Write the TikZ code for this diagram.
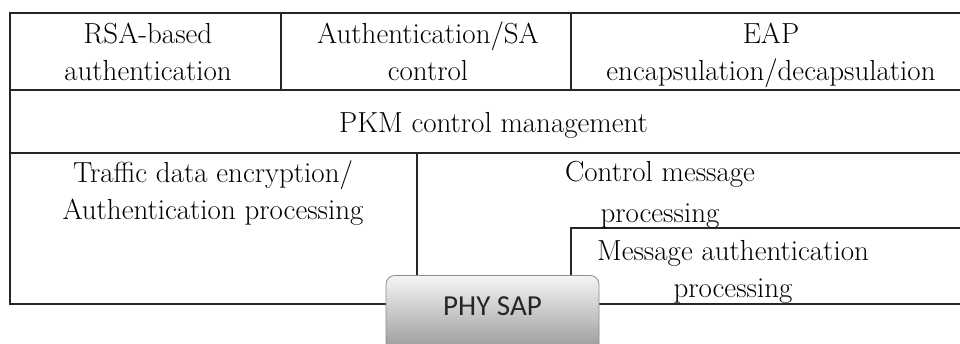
\documentclass[tikz,border=0pt]{standalone}
\usepackage{fontspec}
\newfontfamily\sapfont{Carlito}
\begin{document}
\begin{tikzpicture}[x=1pt,y=-1pt,
  frame/.style={draw=black!85, line width=1.4pt},
  lbl/.style={anchor=north, inner sep=0pt, align=center, text=black,
    font=\fontsize{29}{37}\selectfont},
  sapbox/.style={draw=black!45, line width=0.8pt, rounded corners=9pt,
    top color=white!96!black, bottom color=black!42,
    minimum width=213pt, minimum height=80pt, anchor=north,
    text height=10pt, text depth=10pt, text=black!85,
    font=\sapfont\fontsize{29}{34}\selectfont}]
\clip (0,0) rectangle (960,343);
\fill[white] (0,0) rectangle (960,343);
% frame
\draw[frame] (10,13) rectangle (966,304);
\draw[frame] (10,90) -- (966,90);
\draw[frame] (10,153) -- (966,153);
\draw[frame] (281,13) -- (281,90);
\draw[frame] (571,13) -- (571,90);
\draw[frame] (417,153) -- (417,290);
\draw[frame] (571,290) -- (571,228) -- (966,228);
% labels
\node[lbl] (rsa) at (148,17) {\strut RSA-based\\\strut authentication};
\node[lbl] (auth) at (428,17) {\strut Authentication/SA\\\strut control};
\node[lbl] (eap) at (771,17) {\strut EAP\\\strut encapsulation/decapsulation};
\node[lbl] (pkm) at (493.5,106) {\strut PKM control management};
\node[lbl] (traffic) at (213,156) {\strut Traffic data encryption/\\\strut Authentication processing};
\node[lbl] (ctrl) at (660,155) {\strut Control message\\[4pt]\strut processing};
\node[lbl] (msg) at (733,234) {\strut Message authentication\\\strut processing};
% PHY SAP
\node[sapbox] (sap) at (492.5,275) {PHY SAP};
\end{tikzpicture}
\end{document}
